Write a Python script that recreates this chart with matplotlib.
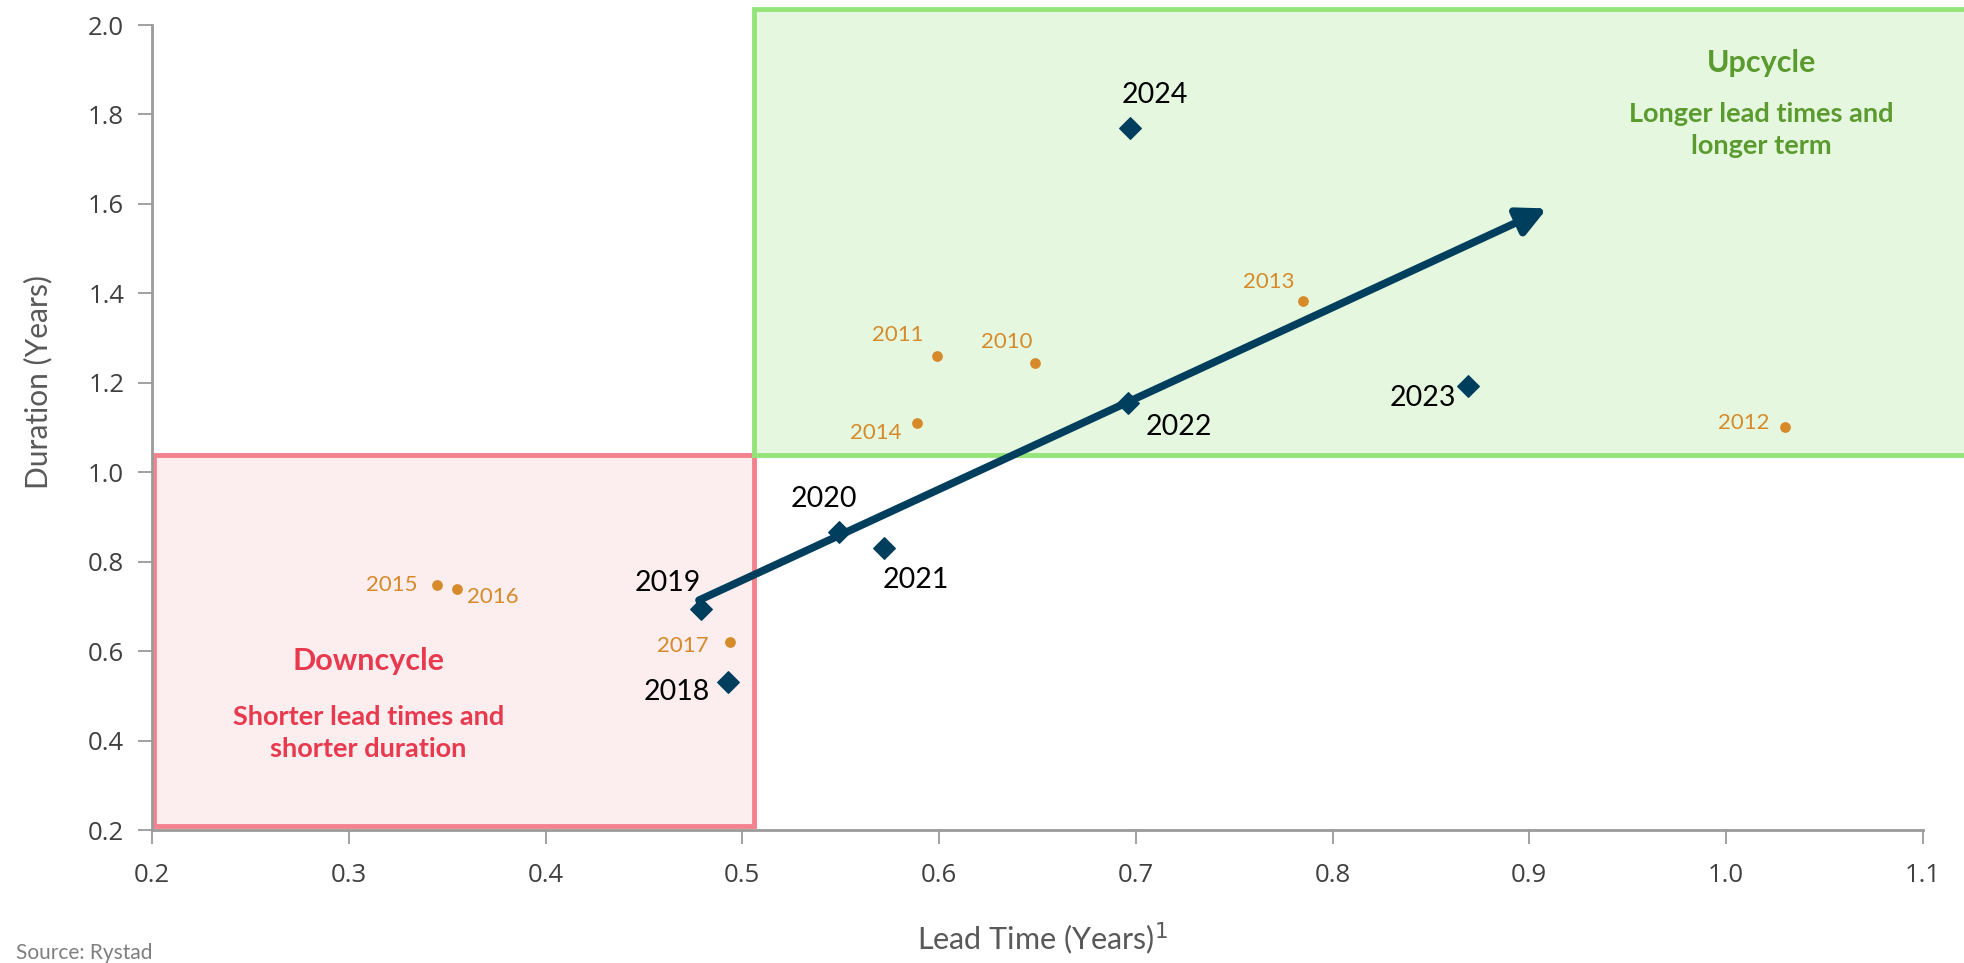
import numpy as np
import matplotlib
matplotlib.use("Agg")
import matplotlib.pyplot as plt
from matplotlib.patches import Rectangle

plt.rcParams['font.family'] = ['Lato', 'DejaVu Sans']

# recent years (diamonds)
new_years = ["2018", "2019", "2020", "2021", "2022", "2023", "2024"]
new_lead = [0.493, 0.479, 0.549, 0.572, 0.696, 0.869, 0.697]
new_dur = [0.531, 0.694, 0.866, 0.830, 1.155, 1.193, 1.770]
new_offsets = [(-37, -7), (-24, 19), (-11, 24), (23, -23), (37, -17), (-33, -9), (18, 24)]

# older years (dots)
old_years = ["2010", "2011", "2012", "2013", "2014", "2015", "2016", "2017"]
old_lead = [0.649, 0.599, 1.030, 0.785, 0.589, 0.345, 0.355, 0.494]
old_dur = [1.244, 1.260, 1.101, 1.383, 1.110, 0.748, 0.739, 0.620]
old_offsets = [(-21, 15), (-28, 15), (-30, 3), (-25, 14), (-30, -7), (-33, 0), (26, -6), (-34, -3)]

navy = "#003E5E"
orange = "#D68A2A"
green_txt = "#5B9A2E"
red_txt = "#E8394E"
gray = "#595959"

fig = plt.figure(figsize=(19.64, 9.63), dpi=100)
ax = fig.add_axes([0.0774, 0.138, 0.9016, 0.836])

ax.set_xlim(0.2, 1.1)
ax.set_ylim(0.2, 2.0)
ax.set_xticks(np.arange(0.2, 1.11, 0.1))
ax.set_yticks(np.arange(0.2, 2.01, 0.2))
ax.xaxis.set_major_formatter(matplotlib.ticker.FormatStrFormatter('%.1f'))
ax.yaxis.set_major_formatter(matplotlib.ticker.FormatStrFormatter('%.1f'))
for lab in ax.get_xticklabels() + ax.get_yticklabels():
    lab.set_fontfamily('Open Sans')
ax.tick_params(axis='both', colors='#9a9a9a', labelcolor='#404040', labelsize=18.5,
               length=10, width=1.3)
ax.tick_params(axis='x', pad=14)
ax.tick_params(axis='y', pad=10)
for s in ['top', 'right']:
    ax.spines[s].set_visible(False)
for s in ['left', 'bottom']:
    ax.spines[s].set_color('#9a9a9a')
    ax.spines[s].set_linewidth(2)

# regions
ax.add_patch(Rectangle((0.201, 0.21), 0.305, 0.828, facecolor="#FCEDEE",
                       edgecolor="#F2828D", linewidth=3.5, zorder=0))
ax.add_patch(Rectangle((0.506, 1.038), 0.75, 0.998, facecolor="#E5F8DF",
                       edgecolor="#93E57A", linewidth=3.5, zorder=0, clip_on=False))

# trend arrow
ax.annotate("", xy=(0.909, 1.59), xytext=(0.478, 0.714),
            arrowprops=dict(arrowstyle='-|>,head_length=1.7,head_width=0.85',
                            lw=5.5, color=navy, shrinkA=0, shrinkB=0), zorder=3)

ax.scatter(old_lead, old_dur, s=45, color=orange, zorder=4)
ax.scatter(new_lead, new_dur, s=120, marker='D', color=navy, zorder=4)

for yr, x, y, off in zip(old_years, old_lead, old_dur, old_offsets):
    ax.annotate(yr, (x, y), xytext=off, textcoords='offset points',
                ha='center', va='center', fontsize=16, color=orange)
for yr, x, y, off in zip(new_years, new_lead, new_dur, new_offsets):
    ax.annotate(yr, (x, y), xytext=off, textcoords='offset points',
                ha='center', va='center', fontsize=20.5, color='black')

ax.text(1.018, 1.915, "Upcycle", ha='center', va='center', fontsize=22,
        fontweight='bold', color=green_txt)
ax.text(1.018, 1.765, "Longer lead times and\nlonger term", ha='center', va='center',
        fontsize=19.5, fontweight='bold', color=green_txt, linespacing=1.4)
ax.text(0.310, 0.578, "Downcycle", ha='center', va='center', fontsize=22,
        fontweight='bold', color=red_txt)
ax.text(0.310, 0.418, "Shorter lead times and\nshorter duration", ha='center', va='center',
        fontsize=19.5, fontweight='bold', color=red_txt, linespacing=1.4)

ax.set_ylabel("Duration (Years)", fontsize=21.5, color=gray)
ax.yaxis.set_label_coords(-0.056, 0.556)
ax.set_xlabel("Lead Time (Years)$^{1}$", fontsize=22, color=gray)
ax.xaxis.set_label_coords(0.503, -0.112)

fig.text(0.008, 0.0, "Source: Rystad", fontsize=15, color="#7f7f7f", va='bottom')

fig.savefig("out.png", dpi=100)
